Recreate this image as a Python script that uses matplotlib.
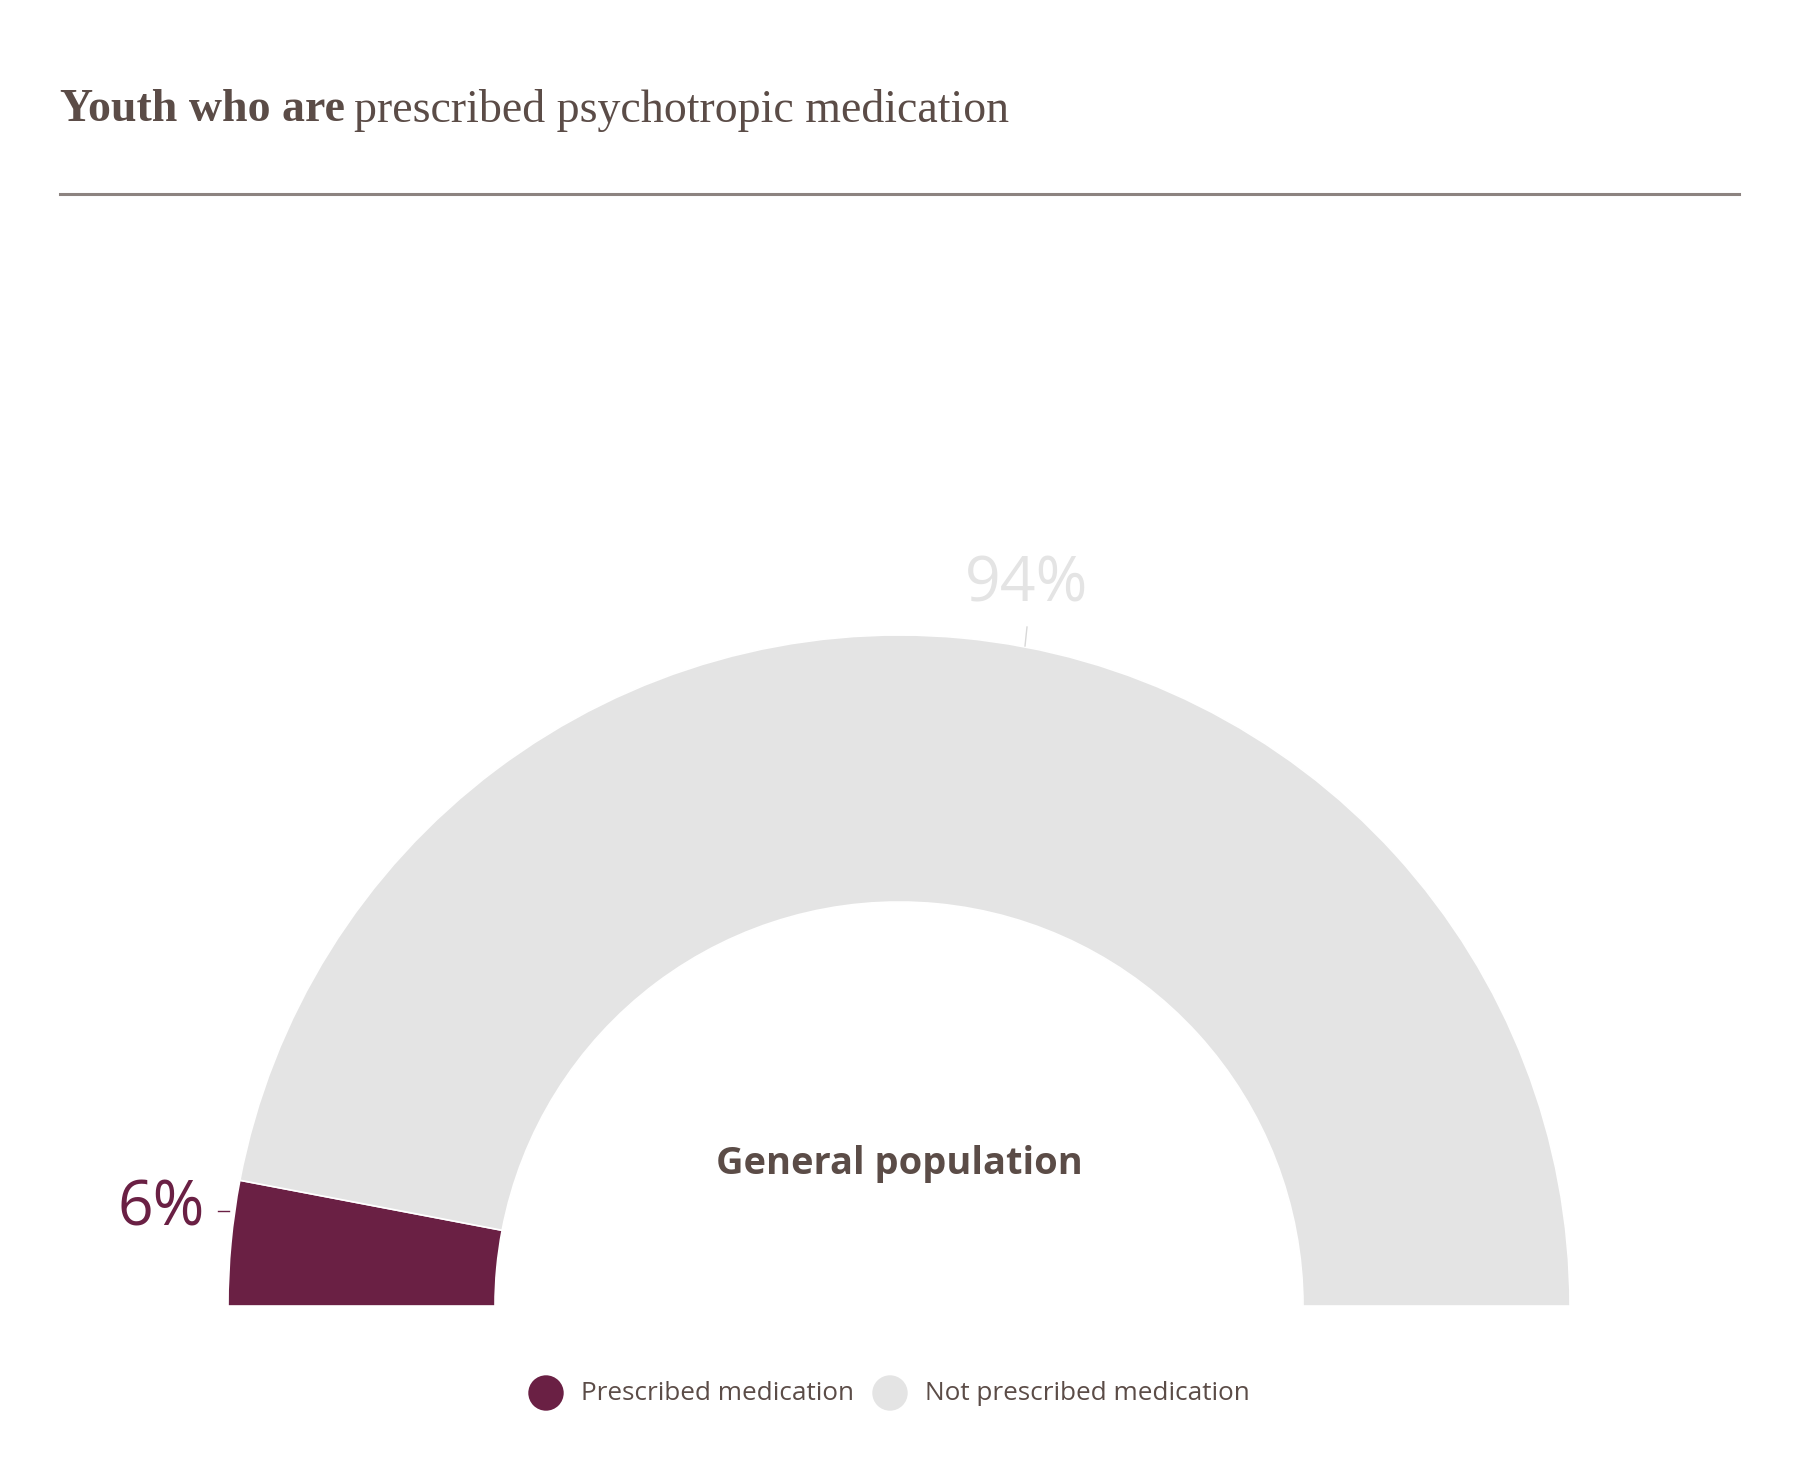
import matplotlib
matplotlib.use("Agg")
import matplotlib.pyplot as plt

# data
labels = ["Prescribed medication", "Not prescribed medication"]
values = [6, 94]
pct_text = ["6%", "94%"]
colors = ["#6a2044", "#e4e4e4"]
center_label = "General population"

W, H = 1800, 1474
fig = plt.figure(figsize=(W / 100, H / 100), dpi=100)
ax = fig.add_axes([0, 0, 1, 1])

text_col = "#5b4c47"

# half donut: hidden wedge takes the bottom half
cx, cy = 899, H - 1306
wedges, _ = ax.pie(values + [sum(values)], colors=colors + ["none"],
                   startangle=180, counterclock=False, radius=671,
                   center=(cx, cy),
                   wedgeprops=dict(width=267, edgecolor="white", linewidth=1.2))
wedges[-1].set_edgecolor("none")

ax.set_xlim(0, W)
ax.set_ylim(0, H)
ax.set_aspect("equal")
ax.axis("off")

# percentage labels with small leader lines
ax.plot([218, 229], [H - 1211, H - 1211], color=colors[0], lw=1)
ax.text(205, H - 1209, pct_text[0], ha="right", va="center",
        fontsize=45, color=colors[0], family="Open Sans")
ax.plot([1025, 1027], [H - 646, H - 627], color="#d8d8d8", lw=1)
ax.text(1027, H - 585, pct_text[1], ha="center", va="center",
        fontsize=45, color="#e4e4e4", family="Open Sans")

ax.text(cx, H - 1164, center_label, ha="center", va="center",
        fontsize=27.4, fontweight="bold", color=text_col, family="Open Sans")

# legend
leg_x = [546, 890]
for x, lab, c in zip(leg_x, labels, colors):
    ax.scatter([x], [H - 1393], s=650, color=c, edgecolors="none")
    ax.text(x + 35, H - 1393, lab, ha="left", va="center",
            fontsize=18.8, color=text_col, family="Open Sans")

# title
t1 = fig.text(60 / W, 1 - 110 / H, "Youth who are", ha="left", va="center",
              fontsize=33, fontweight="bold", color=text_col,
              family="Liberation Serif")
r = fig.canvas.get_renderer()
bb = t1.get_window_extent(r)
fig.text((bb.x1 + 9) / W, 1 - 110 / H, "prescribed psychotropic medication",
         ha="left", va="center", fontsize=33, color=text_col,
         family="Liberation Serif")
ax.plot([60, 1739], [H - 194, H - 194], color="#8c8380", lw=2.2)

fig.savefig("out.png", dpi=100)
